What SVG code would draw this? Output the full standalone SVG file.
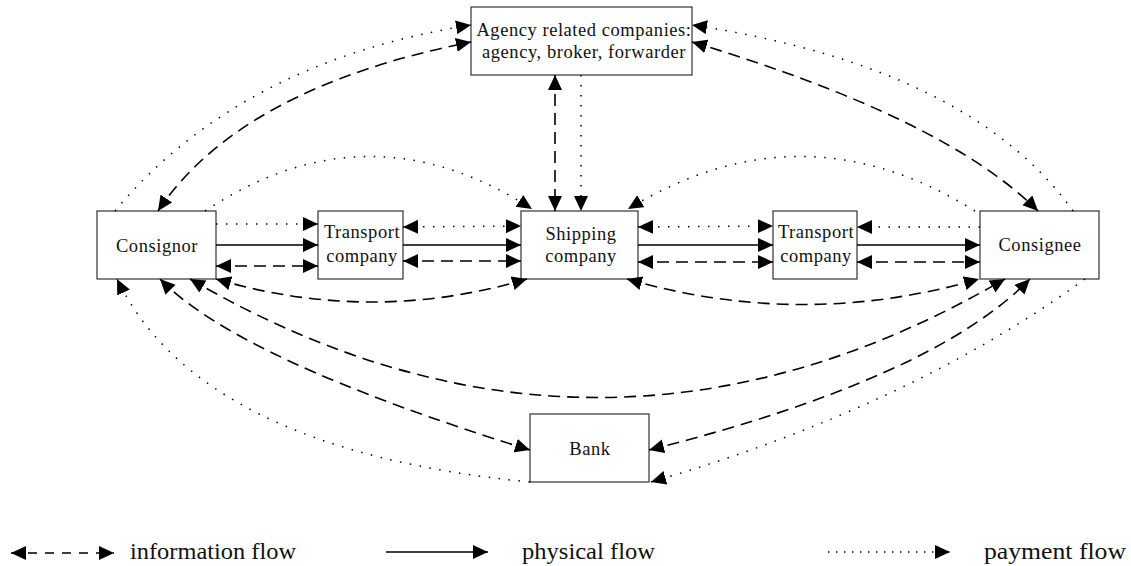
<svg xmlns="http://www.w3.org/2000/svg" width="1131" height="566" viewBox="0 0 1131 566">
<style>
.box{fill:#fff;stroke:#333;stroke-width:1.2}
.lbl{font-family:"Liberation Serif","Times New Roman",serif;font-size:18.5px;letter-spacing:0.55px;fill:#111;text-anchor:middle}
.leg{font-family:"Liberation Serif","Times New Roman",serif;font-size:23px;fill:#111}
.c{fill:none;stroke:#000}
.solid{stroke-width:1.5}
.dash{stroke-width:1.6;stroke-dasharray:12 7}
.dot{stroke-width:1.5;stroke-dasharray:1.5 8.5}
</style>
<defs>
<marker id="ah" markerUnits="userSpaceOnUse" markerWidth="16" markerHeight="15" refX="15" refY="7" orient="auto-start-reverse" viewBox="0 0 16 15">
<path d="M0,0 L15,7 L0,14 z" fill="#000"/>
</marker>
</defs>
<rect width="1131" height="566" fill="#fff"/>

<g id="agency"><rect class="box" x="471" y="7" width="221" height="68"/>
<text class="lbl" x="584" y="36">Agency related companies:</text>
<text class="lbl" x="584" y="58">agency, broker, forwarder</text></g>
<g id="consignor"><rect class="box" x="97" y="211" width="119" height="68"/>
<text class="lbl" x="157" y="252">Consignor</text></g>
<g id="transport1"><rect class="box" x="318" y="211" width="85" height="68"/>
<text class="lbl" x="362" y="238">Transport</text>
<text class="lbl" x="362" y="262">company</text></g>
<g id="shipping"><rect class="box" x="521" y="211" width="117" height="68"/>
<text class="lbl" x="581" y="240">Shipping</text>
<text class="lbl" x="581" y="262">company</text></g>
<g id="transport2"><rect class="box" x="773" y="211" width="84" height="68"/>
<text class="lbl" x="816" y="238">Transport</text>
<text class="lbl" x="816" y="262">company</text></g>
<g id="consignee"><rect class="box" x="980" y="211" width="119" height="68"/>
<text class="lbl" x="1040" y="251">Consignee</text></g>
<g id="bank"><rect class="box" x="530" y="414" width="119" height="68"/>
<text class="lbl" x="590" y="455">Bank</text></g>

<g id="connectors">
<path class="c dot" d="M216,224 L318,224" marker-end="url(#ah)"/>
<path class="c solid" d="M216,245 L318,245" marker-end="url(#ah)"/>
<path class="c dash" d="M216,266 L318,266" marker-start="url(#ah)" marker-end="url(#ah)"/>
<path class="c dot" d="M403,227 L521,226" marker-start="url(#ah)" marker-end="url(#ah)"/>
<path class="c solid" d="M403,245 L521,245" marker-end="url(#ah)"/>
<path class="c dash" d="M403,261 L521,261" marker-start="url(#ah)" marker-end="url(#ah)"/>
<path class="c dot" d="M638,227 L773,226" marker-start="url(#ah)" marker-end="url(#ah)"/>
<path class="c solid" d="M638,245 L773,245" marker-end="url(#ah)"/>
<path class="c dash" d="M638,262 L773,262" marker-start="url(#ah)" marker-end="url(#ah)"/>
<path class="c dot" d="M980,227 L857,227" marker-end="url(#ah)"/>
<path class="c solid" d="M857,245 L980,245" marker-end="url(#ah)"/>
<path class="c dash" d="M857,262 L980,262" marker-start="url(#ah)" marker-end="url(#ah)"/>
<path class="c dash" d="M555,75 L555,211" marker-start="url(#ah)" marker-end="url(#ah)"/>
<path class="c dot" d="M581,75 L581,211" marker-end="url(#ah)"/>
<path class="c dot" d="M115,211 Q239,62 471,25" marker-end="url(#ah)"/>
<path class="c dash" d="M158,211 Q240,88 471,42" marker-start="url(#ah)" marker-end="url(#ah)"/>
<path class="c dot" d="M1073,211 Q970,67 692,25" marker-end="url(#ah)"/>
<path class="c dash" d="M692,42 Q945,118 1038,211" marker-start="url(#ah)" marker-end="url(#ah)"/>
<path class="c dot" d="M205,211 Q368,103 532,209" marker-end="url(#ah)"/>
<path class="c dot" d="M975,211 Q802,103 628,209" marker-end="url(#ah)"/>
<path class="c dash" d="M216,279 Q372,325 527,279" marker-start="url(#ah)" marker-end="url(#ah)"/>
<path class="c dash" d="M627,279 Q803,330 979,279" marker-start="url(#ah)" marker-end="url(#ah)"/>
<path class="c dash" d="M190,279 Q597,516 1005,279" marker-start="url(#ah)" marker-end="url(#ah)"/>
<path class="c dash" d="M160,279 Q239,360 530,450" marker-start="url(#ah)" marker-end="url(#ah)"/>
<path class="c dash" d="M649,450 Q932,379 1030,279" marker-start="url(#ah)" marker-end="url(#ah)"/>
<path class="c dot" d="M530,482 Q200,450 117,279" marker-end="url(#ah)"/>
<path class="c dot" d="M1085,279 Q909,407 651,482" marker-end="url(#ah)"/>
</g>

<g id="legend">
<path class="c" d="M11,553 L114,553" stroke-width="1.6" stroke-dasharray="9 8" marker-start="url(#ah)" marker-end="url(#ah)"/>
<text class="leg" x="130" y="559" textLength="166" lengthAdjust="spacingAndGlyphs">information flow</text>
<path class="c solid" d="M386,552 L488,552" marker-end="url(#ah)"/>
<text class="leg" x="522" y="559" textLength="133" lengthAdjust="spacingAndGlyphs">physical flow</text>
<path class="c" d="M828,552 L950,552" stroke-width="1.4" stroke-dasharray="1.4 6.6" marker-end="url(#ah)"/>
<text class="leg" x="984" y="559" textLength="142" lengthAdjust="spacingAndGlyphs">payment flow</text>
</g>
</svg>
